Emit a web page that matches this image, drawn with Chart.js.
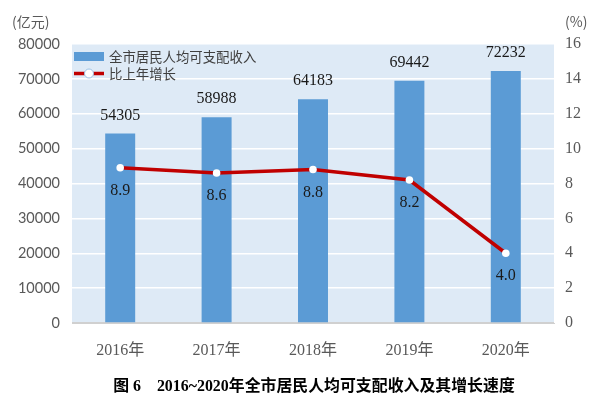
<!DOCTYPE html>
<html>
<head>
<meta charset="utf-8">
<script src="https://cdn.jsdelivr.net/npm/chart.js@4"></script>
<style>
  html, body { margin: 0; padding: 0; background: #fff; }
  #wrap { width: 600px; height: 406px; }
</style>
</head>
<body>
<div id="wrap"><canvas id="incomeChart"></canvas></div>
<script>
const years = ['2016年', '2017年', '2018年', '2019年', '2020年'];
const income = [54305, 58988, 64183, 69442, 72232];
const growth = [8.9, 8.6, 8.8, 8.2, 4.0];
const incomeMax = 80000, incomeStep = 10000;
const growthMax = 16, growthStep = 2;

const barColor = '#5b9bd5';
const lineColor = '#c00000';
const cjk = '"Noto Sans CJK SC"';

// background, units, legend, value labels and caption
const extras = {
    id: 'extras',
    beforeDraw(chart) {
        const { ctx, chartArea: a } = chart;
        ctx.save();
        ctx.fillStyle = '#deeaf6';
        ctx.fillRect(a.left, a.top, a.right - a.left, a.bottom - a.top);
        ctx.restore();
    },
    afterDraw(chart) {
        const { ctx } = chart;
        ctx.save();

        // unit labels
        ctx.fillStyle = '#595959';
        ctx.font = '14px ' + cjk;
        ctx.textBaseline = 'middle';
        ctx.textAlign = 'left';
        ctx.fillText('(亿元)', 12, 22);
        ctx.fillText('(%)', 565, 22);

        // legend
        const ds = chart.data.datasets;
        ctx.fillStyle = barColor;
        ctx.fillRect(74, 52, 30, 9);
        ctx.strokeStyle = lineColor;
        ctx.lineWidth = 3.5;
        ctx.beginPath();
        ctx.moveTo(74, 73.5);
        ctx.lineTo(104, 73.5);
        ctx.stroke();
        ctx.fillStyle = '#fff';
        ctx.lineWidth = 1;
        ctx.strokeStyle = '#9dc3e6';
        ctx.beginPath();
        ctx.arc(89, 73.5, 4.5, 0, Math.PI * 2);
        ctx.fill();
        ctx.stroke();
        ctx.fillStyle = '#404040';
        ctx.font = '13.4px ' + cjk;
        ctx.fillText(ds[1].label, 109, 57);
        ctx.fillText(ds[0].label, 109, 74);

        // value labels
        ctx.font = '16px "Liberation Serif"';
        ctx.textAlign = 'center';
        ctx.fillStyle = '#1a1a1a';
        chart.getDatasetMeta(1).data.forEach((bar, i) => {
            ctx.fillText(String(income[i]), bar.x, bar.y - 18);
        });
        chart.getDatasetMeta(0).data.forEach((pt, i) => {
            ctx.fillText(growth[i].toFixed(1), pt.x, pt.y + 23);
        });

        // caption
        ctx.fillStyle = '#000';
        ctx.font = 'bold 15.9px "Liberation Serif", ' + cjk;
        ctx.fillText('图 6　2016~2020年全市居民人均可支配收入及其增长速度', 314, 387);
        ctx.restore();
    }
};

new Chart(document.getElementById('incomeChart'), {
    data: {
        labels: years,
        datasets: [{
            type: 'line',
            label: '比上年增长',
            data: growth,
            yAxisID: 'y2',
            borderColor: lineColor,
            borderWidth: 3.5,
            pointRadius: 3.8,
            pointBackgroundColor: '#fff',
            pointBorderColor: '#fff',
            pointBorderWidth: 0,
            tension: 0,
            order: 0
        }, {
            type: 'bar',
            label: '全市居民人均可支配收入',
            data: income,
            yAxisID: 'y',
            backgroundColor: barColor,
            barPercentage: 0.311,
            categoryPercentage: 1,
            order: 1
        }]
    },
    options: {
        responsive: true,
        maintainAspectRatio: false,
        animation: false,
        layout: { padding: { top: 44, left: 0, right: 0, bottom: 0 } },
        plugins: {
            legend: { display: false },
            tooltip: { enabled: false }
        },
        scales: {
            x: {
                grid: { display: false },
                border: { display: true, color: '#d0d0d0', width: 1 },
                ticks: {
                    color: '#595959',
                    font: { family: '"Liberation Serif", ' + cjk, size: 16 },
                    padding: 10
                },
                afterFit(s) { s.height = 83; }
            },
            y: {
                position: 'left',
                min: 0,
                max: incomeMax,
                ticks: {
                    stepSize: incomeStep,
                    color: '#595959',
                    font: { family: 'Lato', size: 14.5 },
                    padding: 12,
                    callback: v => String(v)
                },
                grid: {
                    drawTicks: false,
                    color: c => c.tick.value === 0 ? '#d0d0d0' : '#ffffff',
                    lineWidth: 1.5
                },
                border: { display: false },
                afterFit(s) { s.width = 72; }
            },
            y2: {
                position: 'right',
                min: 0,
                max: growthMax,
                ticks: {
                    stepSize: growthStep,
                    color: '#595959',
                    font: { family: '"Liberation Serif"', size: 16 },
                    padding: 11
                },
                grid: { display: false, drawTicks: false },
                border: { display: false },
                afterFit(s) { s.width = 46; }
            }
        }
    },
    plugins: [extras]
});
</script>
</body>
</html>
